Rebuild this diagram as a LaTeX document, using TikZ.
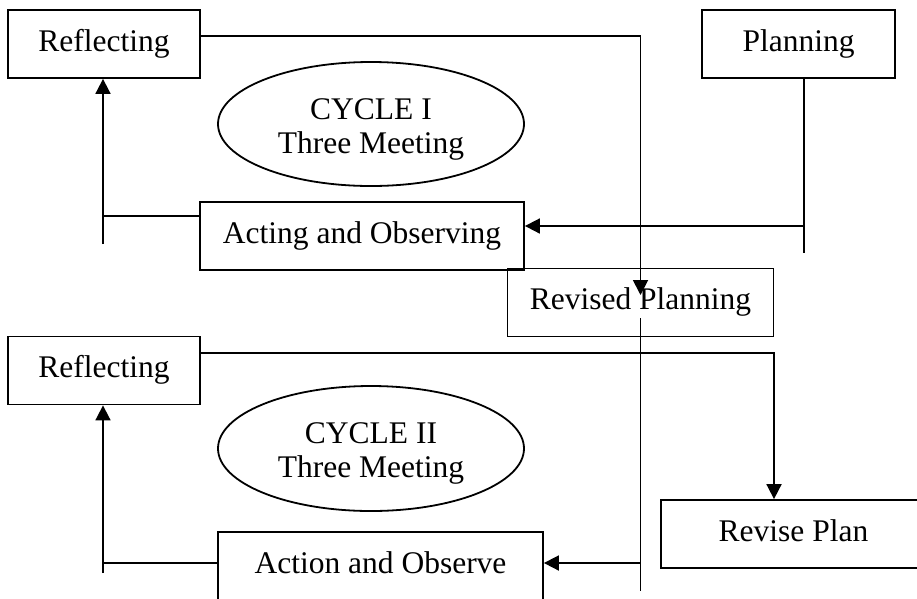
\documentclass[tikz,border=0pt]{standalone}
\usepackage{fontspec}
\setmainfont{Liberation Serif}
\usetikzlibrary{arrows.meta,shapes.geometric}
\begin{document}
\begin{tikzpicture}[x=1pt,y=-1pt,
  every node/.style={font=\fontsize{31.5}{35}\selectfont},
  box/.style={draw,line width=1.8pt,rectangle,inner sep=0pt,text height=41pt,text depth=27pt},
  cyc/.style={draw,line width=1.8pt,ellipse,inner sep=0pt,minimum width=306pt,minimum height=124pt},
  conn/.style={line width=1.8pt},
  arr/.style={conn,-{Triangle[length=15pt,width=15pt]}}]
\useasboundingbox (0,0) rectangle (917,598);
\clip (0,0) rectangle (917,598);
% nodes
\node[box,minimum width=192pt] (R1) at (104,44) {Reflecting};
\node[box,minimum width=193pt] (P) at (798.5,44) {Planning};
\node[cyc] (E1) at (371,124) {};
\node[align=center] (E1t) at (371,129) {CYCLE I\\[-1pt]Three Meeting};
\node[box,minimum width=324pt] (A1) at (362,236) {Acting and Observing};
\node[box,minimum width=266pt] (RP) at (640.5,302.5) {Revised Planning};
\node[box,minimum width=192pt] (R2) at (104,370.5) {Reflecting};
\node[cyc,minimum height=125pt] (E2) at (371,448.5) {};
\node[align=center] (E2t) at (371,453) {CYCLE II\\[-1pt]Three Meeting};
\node[box,minimum width=265pt] (RV) at (793.5,534) {Revise Plan};
\node[box,minimum width=325pt] (A2) at (380.5,566) {Action and Observe};
% coordinates
\coordinate (pJ) at (804,226);
\coordinate (pEnd) at (804,253);
\coordinate (l1) at (103,244);
\coordinate (rpTop) at (640.5,318);
\coordinate (rpBot) at (640.5,591);
\coordinate (l2) at (103,573);
% cycle I connectors
\draw[arr] ([yshift=8pt]R1.east) -| ([yshift=7.5pt]RP.center);
\draw[conn] (P.south -| pJ) -- (pEnd);
\draw[arr] (pJ) -- (pJ -| A1.east);
\draw[conn] ([yshift=20pt]A1.west) -- ([yshift=20pt]A1.west -| l1);
\draw[arr] (l1) -- (l1 |- R1.south);
% cycle II connectors
\draw[conn] (rpTop) -- (rpBot);
\draw[arr] ([yshift=3pt]A2.east -| rpTop) -- ([yshift=3pt]A2.east);
\draw[arr] ([yshift=17.5pt]R2.east) -| ([xshift=-19.5pt]RV.north);
\draw[conn] ([yshift=3pt]A2.west) -- ([yshift=3pt]A2.west -| l2);
\draw[arr] (l2) -- (l2 |- R2.south);
\end{tikzpicture}
\end{document}
